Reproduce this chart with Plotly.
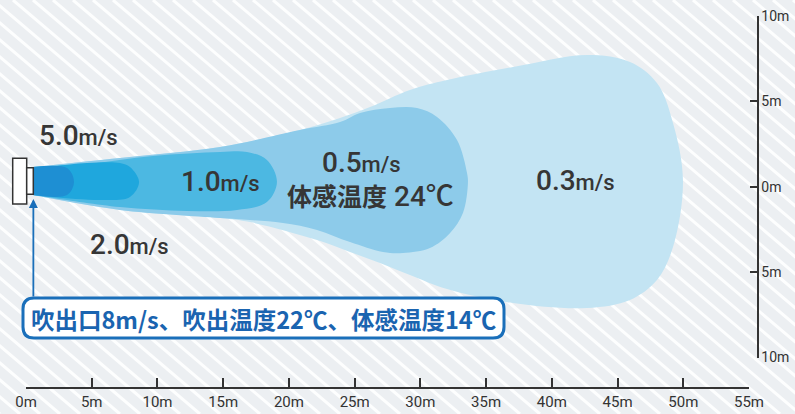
import plotly.graph_objects as go

W, H = 795, 414

# ---------------- data (metres) ----------------
x_tick_vals = [0, 5, 10, 15, 20, 25, 30, 35, 40, 45, 50, 55]
x_tick_text = ["0m", "5m", "10m", "15m", "20m", "25m", "30m", "35m", "40m", "45m", "50m", "55m"]
y_tick_vals = [-10, -5, 0, 5, 10]
y_tick_text = ["10m", "5m", "0m", "5m", "10m"]

# air-speed zones (outline of each region, distance x / lateral y in metres)
zone_03_x = [0.53, 7.15, 14.76, 20.84, 23.89, 26.17, 29.21, 32.03, 37.05, 42.68, 45.95, 48.00, 49.22, 49.98,
             49.22, 48.00, 45.95, 42.68, 37.05, 32.03, 29.21, 26.93, 24.65, 22.14, 17.04, 14.76, 7.15, 0.53]
zone_03_y = [1.11, 1.64, 2.28, 3.28, 3.98, 4.62, 5.62, 6.20, 6.96, 7.67, 7.26, 6.03, 3.69, 0.29,
             -3.57, -5.50, -6.67, -7.14, -6.85, -6.03, -5.21, -4.51, -3.86, -3.16, -2.11, -1.87, -1.40, -0.53]

zone_05_x = [0.53, 7.15, 14.76, 20.84, 23.89, 25.41, 27.69, 29.75, 31.27, 32.79, 33.55, 33.62,
             33.24, 32.26, 30.73, 28.68, 27.16, 24.65, 22.14, 19.55, 17.04, 14.76, 7.15, 0.53]
zone_05_y = [1.11, 1.64, 2.28, 3.28, 3.74, 4.27, 4.56, 4.56, 4.04, 2.69, 0.76, 0.18,
             -1.58, -2.75, -3.63, -3.92, -3.86, -3.28, -2.57, -2.17, -1.99, -1.87, -1.40, -0.53]

zone_10_x = [0.53, 4.64, 9.66, 14.76, 16.81, 18.33, 19.09, 18.33, 16.05, 12.25, 7.15, 2.05, 0.53]
zone_10_y = [1.11, 1.29, 1.76, 1.99, 1.99, 1.52, 0.23, -0.94, -1.40, -1.46, -1.23, -0.70, -0.53]

zone_20_x = [0.53, 2.05, 4.64, 7.15, 7.91, 8.60, 7.91, 5.86, 2.05, 0.53]
zone_20_y = [1.11, 1.17, 1.35, 1.35, 1.11, 0.23, -0.64, -0.82, -0.64, -0.53]

zone_50_x = [0.53, 3.12, 3.65, 3.12, 0.53]
zone_50_y = [1.11, 1.05, 0.23, -0.53, -0.53]

zone_colors = ["#c3e4f3", "#8dcbea", "#4cb8e2", "#1fa7dd", "#1e8fd3"]

# labels: text, x, y (metres)
label_text = ["5.0", "2.0", "1.0", "0.5", "0.3"]
label_x = [4.03, 7.84, 14.83, 25.56, 41.77]
label_y = [2.93, -3.45, 0.29, 1.35, 0.35]
feel_text = "体感温度"
feel_temp = "24℃"
feel_x, feel_y = 26.17, -0.59
note_text = "吹出口8m/s、吹出温度22℃、体感温度14℃"
outlet_x, outlet_y = 0.56, -0.76

# ---------------- figure ----------------
fig = go.Figure()

zones = [(zone_03_x, zone_03_y), (zone_05_x, zone_05_y), (zone_10_x, zone_10_y),
         (zone_20_x, zone_20_y), (zone_50_x, zone_50_y)]
for (zx, zy), col in zip(zones, zone_colors):
    fig.add_trace(go.Scatter(x=zx, y=zy, mode="lines", fill="toself", fillcolor=col,
                             line=dict(width=0, color=col, shape="spline", smoothing=1.0),
                             hoverinfo="skip", showlegend=False))

# invisible trace so the ruler axes are drawn
fig.add_trace(go.Scatter(x=[0, 55], y=[-10, 10], xaxis="x2", yaxis="y2", mode="markers",
                         marker=dict(opacity=0), hoverinfo="skip", showlegend=False))

def P(px, py):
    return px / W, 1 - py / H

shapes = []
# diagonal stripes of background
spacing = 20
slope = 0.85
run = H / slope
x0 = -run
while x0 < W + spacing:
    a = P(x0, 0)
    b = P(x0 + run, H)
    shapes.append(dict(type="line", xref="paper", yref="paper", x0=a[0], y0=a[1], x1=b[0], y1=b[1],
                       line=dict(color="rgba(255,255,255,0.9)", width=3), layer="below"))
    x0 += spacing

# unit (outlet) drawn as two rectangles
for (l, t, r, btm) in [(12.7, 158.3, 26.7, 204), (26.7, 167.7, 33.3, 194.3)]:
    p1 = P(l, btm); p2 = P(r, t)
    shapes.append(dict(type="rect", xref="paper", yref="paper", x0=p1[0], y0=p1[1], x1=p2[0], y1=p2[1],
                       fillcolor="white", line=dict(color="#333333", width=1.5)))

# rounded note box
bl, bt, br, bb, rad = 23, 298, 504, 338, 11
def pt(px, py):
    a = P(px, py)
    return f"{a[0]:.5f},{a[1]:.5f}"
path = (f"M {pt(bl+rad, bt)} L {pt(br-rad, bt)} Q {pt(br, bt)} {pt(br, bt+rad)} "
        f"L {pt(br, bb-rad)} Q {pt(br, bb)} {pt(br-rad, bb)} L {pt(bl+rad, bb)} "
        f"Q {pt(bl, bb)} {pt(bl, bb-rad)} L {pt(bl, bt+rad)} Q {pt(bl, bt)} {pt(bl+rad, bt)} Z")
shapes.append(dict(type="path", xref="paper", yref="paper", path=path, fillcolor="white",
                   line=dict(color="#1a6fba", width=3)))

annotations = []
lab_font = dict(family="Roboto, 'Noto Sans CJK JP', sans-serif", size=28, color="#363636", weight=500)
for t, lx, ly in zip(label_text, label_x, label_y):
    annotations.append(dict(x=lx, y=ly, xref="x", yref="y", showarrow=False, xanchor="center", yanchor="middle",
                            text=f"{t}<span style='font-size:22px'>m/s</span>", font=lab_font))
annotations.append(dict(x=feel_x, y=feel_y, xref="x", yref="y", showarrow=False, xanchor="center", yanchor="middle",
                        text=f"<b><span style='font-size:25px'>{feel_text}</span></b> {feel_temp}",
                        font=lab_font))
# arrow from note box up to outlet
annotations.append(dict(x=outlet_x, y=outlet_y, xref="x", yref="y", ax=outlet_x, ay=-6.55,
                        axref="x", ayref="y", text="", showarrow=True, arrowhead=2, arrowsize=1,
                        arrowwidth=1.8, arrowcolor="#1a6fba", standoff=0, startstandoff=0))
bc = P((bl + br) / 2, (bt + bb) / 2 + 1)
annotations.append(dict(x=bc[0], y=bc[1], xref="paper", yref="paper", showarrow=False,
                        xanchor="center", yanchor="middle", text=f"<b>{note_text}</b>",
                        font=dict(family="'Noto Sans CJK JP', sans-serif", size=23.5, color="#1a64b0")))

fig.update_layout(
    template="none",
    width=W, height=H, margin=dict(l=0, r=0, t=0, b=0, pad=0, autoexpand=False),
    paper_bgcolor="#eceff2", plot_bgcolor="rgba(0,0,0,0)",
    showlegend=False,
    xaxis=dict(domain=[0, 1], range=[-26 / 13.145, (W - 26) / 13.145], visible=False, fixedrange=True,
               automargin=False),
    yaxis=dict(domain=[0, 1], range=[(186 - H) / 17.09, 186 / 17.09], visible=False, fixedrange=True,
               automargin=False),
    xaxis2=dict(domain=[26 / W, 749 / W], range=[0, 55], anchor="free", position=1 - 387.5 / H,
                showline=True, linecolor="#333333", linewidth=2, showgrid=False, zeroline=False,
                ticks="inside", ticklen=9, tickwidth=2, tickcolor="#333333", automargin=False,
                tickvals=x_tick_vals, ticktext=x_tick_text,
                tickfont=dict(family="Roboto, sans-serif", size=15, color="#333333"), fixedrange=True),
    yaxis2=dict(domain=[1 - 357.5 / H, 1 - 15.7 / H], range=[-10, 10], anchor="free", position=757.5 / W,
                side="right", showline=True, linecolor="#333333", linewidth=2, showgrid=False, zeroline=False,
                ticks="inside", ticklen=7, tickwidth=2, tickcolor="#333333", automargin=False,
                tickvals=y_tick_vals, ticktext=y_tick_text,
                tickfont=dict(family="Roboto, sans-serif", size=14, color="#333333"), fixedrange=True),
    shapes=shapes, annotations=annotations,
)

fig.write_html("out.html", config={"displayModeBar": False},
               post_script="document.body.style.margin='0';document.body.style.overflow='hidden';")
